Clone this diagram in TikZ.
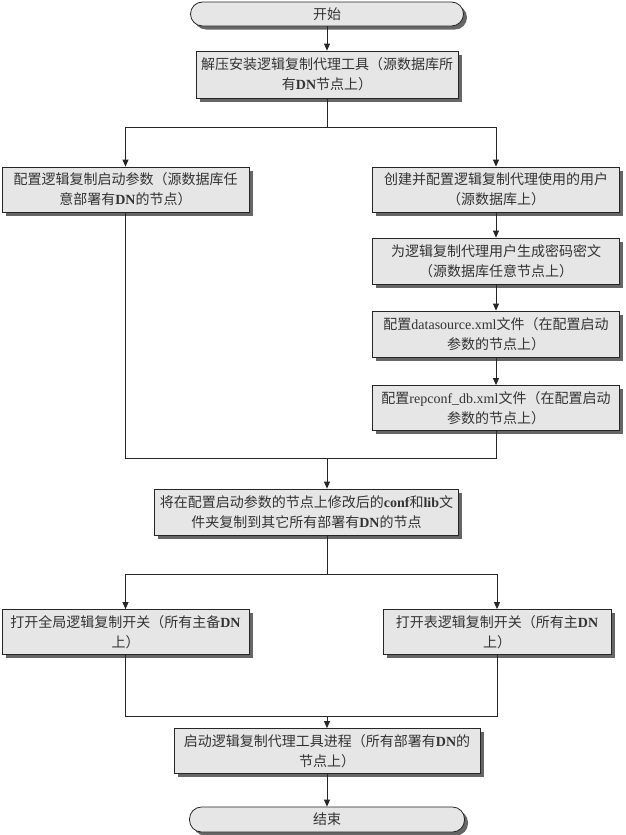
\documentclass[tikz,border=0pt]{standalone}
\usepackage{fontspec}
\setmainfont{Noto Sans CJK SC}
\newfontfamily\lat{Liberation Serif}
\usetikzlibrary{arrows.meta,shadows}
\definecolor{boxfill}{HTML}{E6E6E6}
\newcommand\bl[1]{{\lat\bfseries #1}}
\newcommand\rl[1]{{\lat #1}}
\begin{document}
\begin{tikzpicture}[x=1pt,y=-1pt,
  box/.style={draw=black!85, line width=0.8pt, fill=boxfill, align=center, text=black!80,
    inner sep=0pt, font=\fontsize{14}{20}\selectfont,
    drop shadow={shadow xshift=3.5pt,shadow yshift=-3.5pt,fill=black!60,opacity=1}},
  term/.style={box, rounded corners=12pt},
  line/.style={draw=black!85, line width=0.8pt},
  arr/.style={line, -{Triangle[width=6pt,length=7pt]}}]
\useasboundingbox (0,0) rectangle (625,835);
\node[term, minimum width=273pt, minimum height=24pt] (nstart) at (327,14) {开始};
\node[box, minimum width=262pt, minimum height=47pt] (b1) at (327,74.5) {解压安装逻辑复制代理工具（源数据库所\\有\bl{DN}节点上）};
\node[box, minimum width=247pt, minimum height=45pt] (b2) at (125.5,189.5) {配置逻辑复制启动参数（源数据库任\\意部署有\bl{DN}的节点）};
\node[box, minimum width=247pt, minimum height=45pt] (b3) at (496,189.5) {创建并配置逻辑复制代理使用的用户\\（源数据库上）};
\node[box, minimum width=247pt, minimum height=46pt] (b4) at (496,261) {为逻辑复制代理用户生成密码密文\\（源数据库任意节点上）};
\node[box, minimum width=247pt, minimum height=46pt] (b5) at (496,334) {配置\rl{datasource.xml}文件（在配置启动\\参数的节点上）};
\node[box, minimum width=247pt, minimum height=45pt] (b6) at (496,408) {配置\rl{repconf\_db.xml}文件（在配置启动\\参数的节点上）};
\node[box, minimum width=304pt, minimum height=46pt] (b7) at (306.5,512) {将在配置启动参数的节点上修改后的\bl{conf}和\bl{lib}文\\件夹复制到其它所有部署有\bl{DN}的节点};
\node[box, minimum width=247pt, minimum height=45pt] (b8) at (125.5,632) {打开全局逻辑复制开关（所有主备\bl{DN}\\上）};
\node[box, minimum width=228pt, minimum height=45pt] (b9) at (497,632) {打开表逻辑复制开关（所有主\bl{DN}\\上）};
\node[box, minimum width=306pt, minimum height=45pt] (b10) at (327,751) {启动逻辑复制代理工具进程（所有部署有\bl{DN}的\\节点上）};
\node[term, minimum width=275pt, minimum height=25pt] (nend) at (327,819.5) {结束};
\coordinate (s1) at (327,127);
\coordinate (m1) at (327,458);
\coordinate (s2) at (327,574);
\coordinate (m2) at (327,716);
\draw[arr] (nstart) -- (b1);
\draw[line] (b1) -- (s1);
\draw[arr] (s1) -| (b2);
\draw[arr] (s1) -| (b3);
\draw[arr] (b3) -- (b4);
\draw[arr] (b4) -- (b5);
\draw[arr] (b5) -- (b6);
\draw[line] (b2) |- (m1);
\draw[line] (b6) |- (m1);
\draw[arr] (m1) -- (m1 |- b7.north);
\draw[line] (b7.south -| s2) -- (s2);
\draw[arr] (s2) -| (b8);
\draw[arr] (s2) -| (b9);
\draw[line] (b8) |- (m2);
\draw[line] (b9) |- (m2);
\draw[arr] (m2) -- (b10);
\draw[arr] (b10) -- (nend);
\end{tikzpicture}
\end{document}
